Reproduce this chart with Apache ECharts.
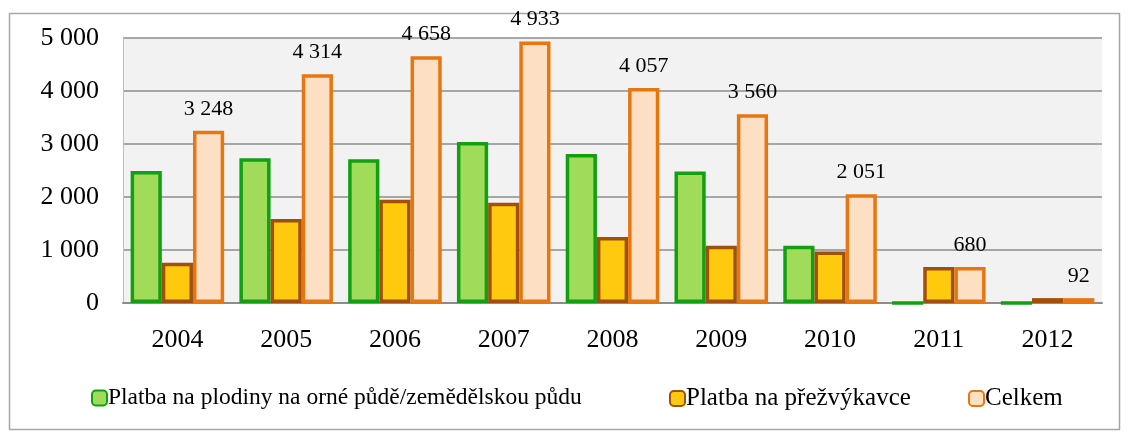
<!DOCTYPE html>
<html>
<head>
<meta charset="utf-8">
<script src="https://cdn.jsdelivr.net/npm/echarts@6/dist/echarts.min.js"></script>
<style>
  html, body { margin: 0; padding: 0; background: #fff; }
  #chart { width: 1128px; height: 438px; }
</style>
</head>
<body>
<div id="chart"></div>
<script>
const years = ['2004', '2005', '2006', '2007', '2008', '2009', '2010', '2011', '2012']
const plodiny = [2490, 2730, 2710, 3040, 2810, 2480, 1080, 0, 0]
const prezvykavce = [758, 1584, 1948, 1893, 1247, 1080, 971, 680, 92]
const celkem = [3248, 4314, 4658, 4933, 4057, 3560, 2051, 680, 92]
const yTicks = [0, 1000, 2000, 3000, 4000, 5000]
const seriesNames = ['Platba na plodiny na orné půdě/zemědělskou půdu', 'Platba na přežvýkavce', 'Celkem']

// mezera jako oddělovač tisíců
const fmt = v => String(v).replace(/\B(?=(\d{3})+(?!\d))/g, ' ')

const serif = '"Liberation Serif", "DejaVu Serif", serif'

// každá položka legendy zvlášť, aby seděly mezery
const legendPos = [86, 664, 963]
const legendFont = [23.5, 25, 25]
const legends = seriesNames.map((name, i) => ({
  top: 381,
  left: legendPos[i],
  itemWidth: 15,
  itemHeight: 15,
  textStyle: { fontFamily: serif, fontSize: legendFont[i], color: '#000', padding: [0, 0, 0, -4] },
  data: [name]
}))

let myEcharts = echarts.init(document.getElementById('chart'))
myEcharts.setOption({
  animation: false,
  textStyle: { fontFamily: serif },
  graphic: [
    {
      type: 'rect',
      shape: { x: 9.5, y: 13.5, width: 1110, height: 416 },
      style: { fill: 'none', stroke: '#a6a6a6', lineWidth: 1.5 },
      silent: true
    }
  ],
  grid: {
    left: 123,
    right: 26,
    top: 38,
    bottom: 135,
    show: true,
    backgroundColor: '#f2f2f2',
    borderWidth: 0
  },
  legend: legends,
  xAxis: {
    type: 'category',
    data: years,
    axisTick: { show: false },
    axisLine: { lineStyle: { color: '#8c8c8c', width: 2 } },
    axisLabel: { fontFamily: serif, fontSize: 26, color: '#000', margin: 24 }
  },
  yAxis: {
    type: 'value',
    min: yTicks[0],
    max: yTicks[yTicks.length - 1],
    interval: 1000,
    axisLine: { show: true, lineStyle: { color: '#bfbfbf', width: 1 } },
    axisTick: { show: false },
    splitLine: { lineStyle: { color: '#8c8c8c', width: 1.5 } },
    axisLabel: { fontFamily: serif, fontSize: 26, color: '#000', margin: 24, formatter: fmt }
  },
  series: [
    {
      name: seriesNames[0],
      type: 'bar',
      data: plodiny,
      barGap: '0%',
      barCategoryGap: '14%',
      itemStyle: { color: '#a0dc5a', borderColor: '#10a010', borderWidth: 3.5 }
    },
    {
      name: seriesNames[1],
      type: 'bar',
      data: prezvykavce,
      itemStyle: { color: '#ffc90e', borderColor: '#a0500a', borderWidth: 3.5 }
    },
    {
      name: seriesNames[2],
      type: 'bar',
      data: celkem,
      itemStyle: { color: '#fde0c4', borderColor: '#e8760f', borderWidth: 3.5 },
      label: {
        show: true,
        position: 'top',
        distance: 11,
        fontFamily: serif,
        fontSize: 22,
        color: '#000',
        formatter: p => fmt(p.value)
      }
    }
  ]
})
</script>
</body>
</html>
